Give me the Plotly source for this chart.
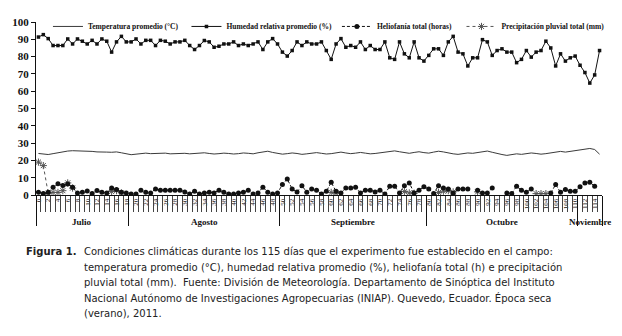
import plotly.graph_objects as go

# ---- data -------------------------------------------------------------
days = list(range(116))

temperatura = [
    24.0, 23.6, 23.4, 23.9, 24.5, 25.0, 25.4, 25.6, 25.5, 25.4,
    25.6, 25.2, 24.9, 25.0, 24.8, 24.7, 24.9, 24.4, 23.8,
    23.3, 23.6, 24.0, 24.2, 23.9, 24.1, 24.4, 24.2, 23.8, 23.9, 24.3,
    24.1, 23.8, 24.0, 24.3, 24.4, 24.0, 23.7, 23.9, 24.2, 24.0,
    23.7, 23.9, 24.3, 24.1, 23.8, 24.4, 25.0, 25.3, 24.6, 24.0,
    23.6, 23.9, 24.3, 24.0, 23.5, 23.8, 24.2, 24.5, 24.1, 23.7,
    23.9, 24.4, 24.8, 24.3, 23.9, 24.2, 24.6, 24.2, 23.8, 24.0,
    24.4, 24.8, 25.2, 25.5, 25.0, 24.4, 24.1, 24.6, 25.0, 24.5,
    24.2, 24.8, 25.3, 24.9, 24.2, 23.8, 23.5, 23.9, 24.3, 24.1,
    24.6, 25.0, 25.4, 24.7, 23.9, 23.4, 22.9, 23.3, 23.8, 23.5,
    23.9, 24.3, 24.0, 23.6, 23.9, 24.4, 24.9, 25.2, 24.8, 25.3,
    25.7, 26.1, 26.6, 26.9, 26.3, 23.6,
]

humedad = [
    91.3, 92.7, 90.4, 86.4, 86.4, 86.4, 90.2, 87.3, 90.2, 88.9,
    87.3, 89.4, 87.3, 90.2, 88.9, 82.6, 88.5, 91.7, 88.5, 88.5,
    90.2, 87.3, 89.4, 89.4, 86.4, 89.4, 88.9, 87.3, 88.5, 88.5,
    89.4, 86.4, 84.1, 86.4, 89.3, 88.5, 85.4, 86.0, 87.3, 87.3,
    88.5, 86.4, 87.3, 86.4, 87.3, 88.5, 84.1, 88.5, 90.4, 87.3,
    82.6, 80.3, 83.5, 88.5, 86.4, 88.5, 87.3, 87.3, 88.5, 83.5,
    78.4, 87.3, 90.4, 85.4, 86.4, 85.4, 88.5, 84.1, 86.4, 84.1,
    84.1, 88.5, 79.3, 78.4, 88.5, 81.6, 79.3, 88.5, 79.3, 77.4,
    80.7, 84.5, 84.5, 80.7, 88.5, 91.7, 82.6, 81.6, 74.6, 79.3,
    79.3, 89.8, 88.5, 80.7, 83.5, 84.5, 82.6, 82.6, 76.5, 78.4,
    83.5, 79.7, 82.6, 83.5, 88.9, 85.0, 74.6, 81.6, 77.4, 79.3,
    80.3, 75.0, 70.8, 64.7, 69.4, 83.5,
]

heliofania = [
    1.6, 0.9, 1.6, 4.5, 6.5, 5.5, 6.3, 4.5, 1.1, 1.6,
    2.3, 0.9, 2.6, 1.6, 1.1, 4.1, 3.2, 1.6, 1.1, 0.6,
    0.6, 2.8, 1.6, 1.2, 3.5, 2.8, 2.8, 2.8, 2.8, 2.8,
    1.8, 0.6, 2.1, 0.6, 1.2, 1.6, 1.2, 2.8, 1.6, 0.6,
    0.6, 1.2, 1.6, 2.8, 0.6, 1.2, 4.5, 1.6, 0.6, 1.2,
    6.0, 9.2, 3.5, 1.8, 5.4, 1.6, 3.5, 2.8, 0.6, 2.1,
    7.3, 2.1, 1.2, 4.0, 4.0, 4.5, 1.2, 2.8, 2.8, 1.8,
    2.8, 0.6, 5.0, 5.0, 1.2, 5.4, 7.0, 1.2, 2.8, 4.7,
    3.5, 0.9, 5.4, 4.0, 3.5, 1.0, 3.5, 3.5, 3.5, None,
    2.8, 1.2, 1.2, 4.0, None, None, 1.2, 0.9, 5.0, 2.8,
    1.6, 3.5, None, None, None, 1.2, 6.0, 1.6, 3.2, 2.1,
    2.1, 4.7, 7.0, 7.3, 5.0, None,
]

precipitacion = [
    19.0, 17.0, 1.0, 1.5, 1.5, 2.5, 7.0, 4.0, None, None,
    None, None, None, None, None, 2.0, 2.5, 1.2, None, None,
    None, None, None, None, None, None, None, None, None, None,
    None, None, None, None, None, None, None, None, None, None,
    None, None, None, None, None, None, None, None, None, None,
    None, None, None, None, None, None, None, None, None, None,
    1.5, 1.0, None, None, None, None, None, None, None, None,
    None, None, None, None, None, 2.0, 1.2, 1.0, None, None,
    None, None, 1.5, 2.2, 2.5, 1.8, None, None, None, None,
    1.8, None, None, None, None, None, None, None, None, None,
    None, None, 0.8, 0.8, 0.8, None, None, None, None, None,
    None, None, None, None, None, None,
]

meses = ["Julio", "Agosto", "Septiembre", "Octubre", "Noviembre"]
dias_por_mes = [19, 31, 30, 31, 5]

etiquetas_dia = [d for d in days if d % 2 == 0]

caption_title = "Figura 1."
caption_lines = [
    "Condiciones climáticas durante los 115 días que el experimento fue establecido en el campo:",
    "temperatura promedio (°C), humedad relativa promedio (%), heliofanía total (h) e precipitación",
    "pluvial total (mm).  Fuente: División de Meteorología. Departamento de Sinóptica del Instituto",
    "Nacional Autónomo de Investigaciones Agropecuarias (INIAP). Quevedo, Ecuador. Época seca",
    "(verano), 2011.",
]

# ---- figure geometry --------------------------------------------------
W, H = 622, 336
ML, MR, MT, MB = 34, 20, 20.5, 140.5
PW, PH = W - ML - MR, H - MT - MB
SERIF = "Liberation Serif"


def px_x(px):
    return (px - ML) / PW


def px_y(py):
    return (H - MB - py) / PH


def legend_box(left_px):
    return dict(
        orientation="h", x=px_x(left_px), y=px_y(25),
        xanchor="left", yanchor="middle", bgcolor="rgba(0,0,0,0)",
        font=dict(family=SERIF, size=7.5, weight="bold", color="#111"),
        itemwidth=30,
    )


fig = go.Figure()

fig.add_trace(go.Scatter(
    x=days, y=temperatura, name="Temperatura promedio (°C)", legend="legend",
    mode="lines", line=dict(color="#3a3a3a", width=1),
))
fig.add_trace(go.Scatter(
    x=days, y=humedad, name="Humedad relativa promedio (%)", legend="legend2",
    mode="lines+markers", line=dict(color="#111", width=1),
    marker=dict(symbol="square", size=3.5, color="#111"),
))
fig.add_trace(go.Scatter(
    x=days, y=precipitacion, name="Precipitación pluvial total (mm)", legend="legend4",
    mode="lines+markers", line=dict(color="#555", width=1, dash="dot"),
    marker=dict(symbol="asterisk-open", size=6, line=dict(color="#444", width=1)),
))
fig.add_trace(go.Scatter(
    x=days, y=heliofania, name="Heliofanía total (horas)", legend="legend3",
    mode="lines+markers", line=dict(color="#111", width=1, dash="3px,2px"),
    marker=dict(symbol="circle", size=5, color="#111"),
))

# category dividers and month dividers on overlay x axes; day labels on x
edges = [d - 0.5 for d in days] + [days[-1] + 0.5]
bounds = [-0.5]
for n in dias_por_mes:
    bounds.append(bounds[-1] + n)
xr = [-0.5, days[-1] + 0.5]

fig.update_layout(
    width=W, height=H,
    margin=dict(l=ML, r=MR, t=MT, b=MB),
    paper_bgcolor="white", plot_bgcolor="white",
    font=dict(family=SERIF, color="#111"),
    showlegend=True,
    legend=legend_box(46),
    legend2=legend_box(185),
    legend3=legend_box(336),
    legend4=legend_box(461),
    xaxis=dict(
        range=xr, showgrid=False, zeroline=False,
        showline=True, linecolor="#111", linewidth=1,
        tickmode="array", tickvals=etiquetas_dia,
        ticktext=[str(d) for d in etiquetas_dia],
        tickangle=-90, ticks="",
        tickfont=dict(family=SERIF, size=7, color="#111"),
    ),
    xaxis2=dict(
        overlaying="x", anchor="y", side="bottom", range=xr, matches="x",
        showgrid=False, zeroline=False, showline=False,
        tickmode="array", tickvals=edges, ticks="outside", ticklen=16,
        tickcolor="#444", tickwidth=1, showticklabels=False,
    ),
    xaxis3=dict(
        overlaying="x", anchor="y", side="bottom", range=xr, matches="x",
        showgrid=False, zeroline=False, showline=False,
        tickmode="array", tickvals=bounds, ticks="outside", ticklen=30,
        tickcolor="#111", tickwidth=1, showticklabels=False,
    ),
    yaxis=dict(
        range=[0, 100], dtick=10, showgrid=False, zeroline=False,
        showline=True, linecolor="#111", linewidth=1,
        ticks="outside", ticklen=4, tickcolor="#111",
        tickfont=dict(family=SERIF, size=11, weight="bold", color="#111"),
    ),
)

# invisible carriers so the overlay axes are drawn
for ax in ("x2", "x3"):
    fig.add_trace(go.Scatter(x=xr, y=[None, None], xaxis=ax, yaxis="y",
                             mode="lines", showlegend=False, hoverinfo="skip"))

# month names centred under each month block
for name, a, b in zip(meses, bounds[:-1], bounds[1:]):
    fig.add_annotation(
        x=(a + b) / 2, y=0, xref="x", yref="y", yshift=-26.5,
        text=name, showarrow=False, xanchor="center", yanchor="middle",
        font=dict(family=SERIF, size=9, weight="bold", color="#111"),
    )

# caption
fig.add_annotation(
    x=px_x(22), y=px_y(253), xref="paper", yref="paper",
    text=caption_title, showarrow=False, xanchor="left", yanchor="middle",
    font=dict(family="DejaVu Sans", size=10, weight="bold", color="#222"),
)
for i, line in enumerate(caption_lines):
    fig.add_annotation(
        x=px_x(80), y=px_y(253 + 15.5 * i), xref="paper", yref="paper",
        text=line, showarrow=False, xanchor="left", yanchor="middle",
        font=dict(family="DejaVu Sans", size=10, color="#222"),
    )

fig.write_html("out.html")
